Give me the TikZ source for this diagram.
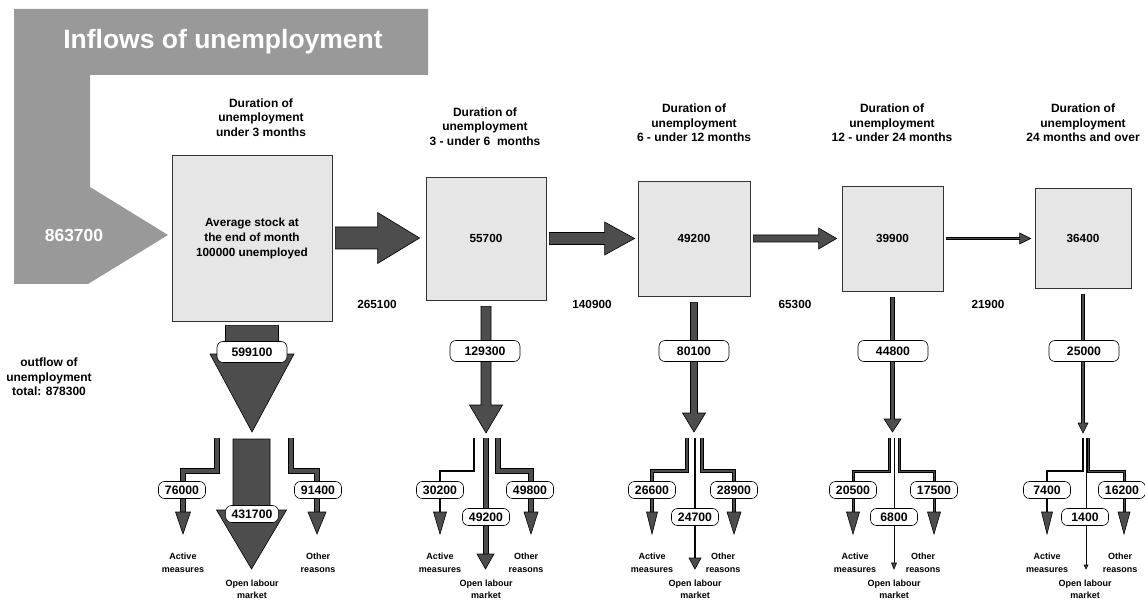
\documentclass[tikz,border=0pt]{standalone}
\usepackage{fontspec}
\setmainfont{Liberation Sans}
\usetikzlibrary{calc}
\definecolor{hdr}{HTML}{999999}
\definecolor{dk}{HTML}{4D4D4D}
\definecolor{bx}{HTML}{E6E6E6}
\tikzset{
  stock/.style={draw=black!80, fill=bx, line width=0.8pt, inner sep=0pt,
    font=\bfseries\fontsize{11.75}{15}\selectfont, align=center},
  title/.style={font=\bfseries\fontsize{12}{14.5}\selectfont, align=center, inner sep=0pt},
  flowlbl/.style={font=\bfseries\fontsize{11.75}{14}\selectfont, inner sep=0pt},
  bubble/.style={draw=black, fill=white, rounded corners=6pt, line width=0.6pt,
    font=\bfseries\fontsize{12.25}{14}\selectfont, inner xsep=6pt, inner ysep=0pt},
  topbub/.style={bubble, minimum width=70pt, minimum height=21pt},
  subbub/.style={bubble, minimum width=47pt, minimum height=17pt},
  small/.style={font=\bfseries\fontsize{9}{12.5}\selectfont, align=center, inner sep=0pt},
  blk/.style={fill=dk, draw=black, line width=0.6pt, line join=miter},
}
% horizontal block arrow: start, tip, shaft half, head half, head length
\newcommand\hblock[5]{%
  \draw[blk] let \p1=(#1), \p2=(#2) in
    (\x1,\y1+#3pt) -- (\x2-#5pt,\y1+#3pt) -- (\x2-#5pt,\y1+#4pt) -- (\x2,\y1)
    -- (\x2-#5pt,\y1-#4pt) -- (\x2-#5pt,\y1-#3pt) -- (\x1,\y1-#3pt) -- cycle;}
% vertical block arrow: top, tip, shaft half, head half, head length
\newcommand\vblock[5]{%
  \draw[blk] let \p1=(#1), \p2=(#2) in
    (\x1-#3pt,\y1) -- (\x1+#3pt,\y1) -- (\x1+#3pt,\y2+#5pt) -- (\x1+#4pt,\y2+#5pt)
    -- (\x1,\y2) -- (\x1-#4pt,\y2+#5pt) -- (\x1-#3pt,\y2+#5pt) -- cycle;}
% pipe: outer width, inner width, path
\newcommand\pipe[3]{%
  \draw[line width=#1pt, black, line join=miter] #3;
  \draw[line width=#2pt, dk, line join=miter] #3;}
% side branch: x start, x end, outer, inner, head half
\newcommand\branch[5]{%
  \pipe{#3}{#4}{(#1,438) -- (#1,471) -- (#2,471) -- (#2,513)}
  \draw[blk] (#2-#5,512) -- (#2+#5,512) -- (#2,534) -- cycle;}
% centre branch: x, outer, inner, head half, head top
\newcommand\cbranch[5]{%
  \pipe{#2}{#3}{(#1,438) -- (#1,#5+1)}
  \draw[blk] (#1-#4,#5) -- (#1+#4,#5) -- (#1,569) -- cycle;}
\begin{document}
\begin{tikzpicture}[x=1pt,y=-1pt]
\fill[white] (0,0) rectangle (1145,601);
\useasboundingbox (0,0) rectangle (1145,601);

% header inflow arrow
\fill[hdr] (14,9) -- (428,9) -- (428,75) -- (90,75) -- (90,187) -- (168,235)
  -- (88,284) -- (14,284) -- cycle;
\node[text=white, font=\bfseries\fontsize{26.5}{30}\selectfont] (hdrtext) at (223,42) {Inflows of unemployment};
\node[text=white, font=\bfseries\fontsize{17.5}{20}\selectfont] (inflow) at (74,235) {863700};

% stock boxes
\node[stock, minimum width=160pt, minimum height=166pt] (b1) at (252,238) {Average stock at\\the end of month\\100000 unemployed};
\node[stock, minimum width=120pt, minimum height=123pt] (b2) at (486,238.5) {55700};
\node[stock, minimum width=112pt, minimum height=115pt] (b3) at (694,238.5) {49200};
\node[stock, minimum width=101pt, minimum height=105pt] (b4) at (892.5,238.5) {39900};
\node[stock, minimum width=96pt, minimum height=100pt] (b5) at (1083,238) {36400};

% titles
\node[title] (t1) at (261,117.5) {Duration of\\unemployment\\under 3 months};
\node[title] (t2) at (485,126.5) {Duration of\\unemployment\\3 - under 6\ \ months};
\node[title] (t3) at (694,123) {Duration of\\unemployment\\6 - under 12 months};
\node[title] (t4) at (892,123) {Duration of\\unemployment\\12 - under 24 months};
\node[title] (t5) at (1083,123) {Duration of\\unemployment\\24 months and over};

% horizontal transitions
\coordinate (h1s) at ([xshift=3pt]b1.east);  \coordinate (h1t) at ([xshift=-6pt]b2.west);
\coordinate (h2s) at ([xshift=3pt]b2.east);  \coordinate (h2t) at ([xshift=-3pt]b3.west);
\coordinate (h3s) at ([xshift=3pt]b3.east);  \coordinate (h3t) at ([xshift=-5pt]b4.west);
\coordinate (h4s) at ([xshift=3pt]b4.east);  \coordinate (h4t) at ([xshift=-4pt]b5.west);
\hblock{h1s}{h1t}{11}{25.5}{42}
\hblock{h2s}{h2t}{6}{16.5}{30}
\hblock{h3s}{h3t}{3.5}{10.5}{18}
\hblock{h4s}{h4t}{1}{5.5}{11}

\node[flowlbl] (f1) at (377,304) {265100};
\node[flowlbl] (f2) at (592,304) {140900};
\node[flowlbl] (f3) at (795,304) {65300};
\node[flowlbl] (f4) at (988,304) {21900};

% outflows
\coordinate (o1s) at ([yshift=-4pt]b1.south); \coordinate (o1t) at (252,432);
\coordinate (o2s) at ([yshift=-6pt]b2.south); \coordinate (o2t) at (485.5,433);
\coordinate (o3s) at ([yshift=-6pt]b3.south); \coordinate (o3t) at (694,432);
\coordinate (o4s) at ([yshift=-6pt]b4.south); \coordinate (o4t) at (893.5,432);
\coordinate (o5s) at ([yshift=-6pt]b5.south); \coordinate (o5t) at (1084.5,433);
\vblock{o1s}{o1t}{26.5}{42}{78}
\vblock{o2s}{o2t}{5}{16.5}{28}
\vblock{o3s}{o3t}{3.5}{11.5}{19}
\vblock{o4s}{o4t}{2}{8.5}{13}
\vblock{o5s}{o5t}{1.5}{5}{10}

\node[topbub] (n1) at (252,352) {599100};
\node[topbub] (n2) at (485,351) {129300};
\node[topbub] (n3) at (694,351) {80100};
\node[topbub] (n4) at (893,351) {44800};
\node[topbub] (n5) at (1084,351) {25000};

% column 1 branches
\branch{217}{183}{5.5}{3.5}{7.5}
\branch{291}{317}{6.5}{4.5}{9}
\coordinate (c1s) at (251.5,439); \coordinate (c1t) at (251.5,569);
\vblock{c1s}{c1t}{18.5}{35}{59}
% column 2
\branch{474}{440}{1.8}{0.01}{6.5}
\cbranch{485.5}{6}{4}{8.5}{554}
\branch{498}{531}{5.5}{3.5}{7}
% column 3
\branch{687}{652}{3.5}{1.5}{5.5}
\cbranch{695}{2.4}{0.01}{6}{558}
\branch{702}{734}{4}{2}{7}
% column 4
\branch{889}{853}{3}{1}{6.5}
\cbranch{894}{1}{0.01}{2.5}{563}
\branch{899}{934}{3}{1}{6.5}
% column 5
\branch{1083}{1047}{1.6}{0.01}{5.5}
\cbranch{1086}{0.8}{0.01}{2}{565}
\branch{1088}{1124}{3}{1}{6}

% branch labels
\node[subbub] (a1) at (182,490) {76000};
\node[subbub] (m1) at (252,514) {431700};
\node[subbub] (r1) at (318,490) {91400};
\node[subbub] (a2) at (440,490) {30200};
\node[subbub] (m2) at (486,517) {49200};
\node[subbub] (r2) at (530,490) {49800};
\node[subbub] (a3) at (652,490) {26600};
\node[subbub] (m3) at (695,517) {24700};
\node[subbub] (r3) at (734,490) {28900};
\node[subbub] (a4) at (853,490) {20500};
\node[subbub] (m4) at (894,517) {6800};
\node[subbub] (r4) at (934,490) {17500};
\node[subbub] (a5) at (1047,490) {7400};
\node[subbub] (m5) at (1085,517) {1400};
\node[subbub] (r5) at (1122,490) {16200};

% destination texts
\foreach \i/\xa/\xo/\xm in {1/183/318/252, 2/440/526/486, 3/652/723/695, 4/855/923/894, 5/1047/1120/1085}{
  \node[small] (act\i) at (\xa,563) {Active\\measures};
  \node[small] (oth\i) at (\xo,563) {Other\\reasons};
  \node[small] (olm\i) at (\xm,589.5) {Open labour\\market};
}

% left outflow total
\node[title] (tot) at (49,377) {outflow of\\unemployment\\total: 878300};
\end{tikzpicture}
\end{document}
